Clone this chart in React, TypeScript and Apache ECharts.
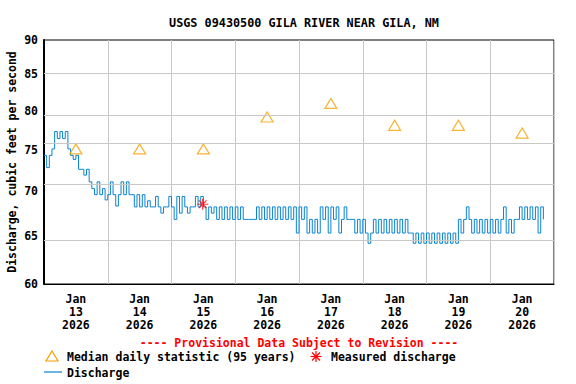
import React, { useEffect, useRef } from "react";
import * as echarts from "echarts";

// Hourly discharge (cfs), one array per day starting 00:00
const jan13 = [74.3, 72.8, 74.3, 75.1, 77.3, 76.4, 77.3, 76.4, 77.3, 75.1, 74.3, 73.8, 74.3, 72.6, 72.6, 71.9, 72.6, 71.1, 70.3, 69.6, 71.1, 69.6, 70.3, 69.0];
const jan14 = [69.6, 71.1, 69.6, 68.3, 69.6, 71.1, 69.6, 71.1, 69.6, 69.6, 68.2, 69.6, 68.2, 69.6, 68.2, 68.9, 68.2, 68.2, 69.4, 68.2, 67.5, 68.2, 68.2, 69.4];
const jan15 = [68.2, 66.8, 69.4, 67.5, 69.4, 68.2, 67.5, 68.2, 68.2, 69.4, 68.2, 69.4, 68.2, 66.8, 68.2, 67.5, 68.2, 66.8, 68.2, 66.8, 68.2, 66.8, 68.2, 66.8];
const jan16 = [68.2, 66.8, 68.2, 66.8, 66.8, 66.8, 66.8, 66.8, 68.2, 66.8, 68.2, 66.8, 68.2, 66.8, 68.2, 66.8, 68.2, 66.8, 68.2, 66.8, 68.2, 66.8, 68.2, 65.3];
const jan17 = [68.2, 66.8, 68.2, 65.3, 66.8, 65.3, 66.8, 65.3, 68.2, 66.8, 68.2, 65.3, 68.2, 66.8, 68.2, 65.3, 66.8, 68.2, 66.8, 66.8, 66.8, 65.3, 66.8, 65.3];
const jan18 = [66.8, 65.3, 64.2, 65.3, 66.8, 65.3, 66.8, 65.3, 66.8, 65.3, 66.8, 65.3, 66.8, 65.3, 66.8, 65.3, 66.8, 65.3, 65.3, 64.2, 65.3, 64.2, 65.3, 64.2];
const jan19 = [65.3, 64.2, 65.3, 64.2, 65.3, 64.2, 65.3, 64.2, 65.3, 64.2, 65.3, 64.2, 66.8, 65.3, 66.8, 68.2, 66.8, 65.3, 66.8, 65.3, 66.8, 65.3, 66.8, 65.3];
const jan20 = [66.8, 65.3, 66.8, 65.3, 66.8, 68.2, 65.3, 66.8, 65.3, 66.8, 66.8, 68.2, 66.8, 68.2, 66.8, 68.2, 66.8, 68.2, 65.3, 68.2, 66.8];
const dischargeDays = [jan13, jan14, jan15, jan16, jan17, jan18, jan19, jan20];

// Median daily statistic (95 years), one per day (plotted at noon)
const medianValues = [75.1, 75.1, 75.1, 79.2, 81.0, 78.1, 78.1, 77.1];

// Measured discharge
const measuredTime = "2026-01-15T11:45:00Z";
const measuredValue = 68.5;

// Axis labels
const dayNumbers = [13, 14, 15, 16, 17, 18, 19, 20];
const yTicks = [60, 65, 70, 75, 80, 85, 90];

const START = Date.UTC(2026, 0, 13);
const HOUR = 3600000;
const DAY = 86400000;
const FONT = "'DejaVu Sans Mono', 'Liberation Mono', monospace";
const BLUE = "#0a84d0";
const ORANGE = "#f5a000";
const lg = (v: number) => Math.log10(v);

const asterisk = "path://M0,-10L0,10M-10,0L10,0M-7,-7L7,7M-7,7L7,-7";

export default function App() {
  const ref = useRef<HTMLDivElement>(null);
  useEffect(() => {
    if (!ref.current) return;
    const chart = echarts.init(ref.current, undefined, { renderer: "svg" });

    const discharge: [number, number][] = [];
    dischargeDays.forEach((arr, d) =>
      arr.forEach((v, h) => discharge.push([START + (d * 24 + h) * HOUR, lg(v)]))
    );
    const medians = medianValues.map((v, d) => [START + d * DAY + 12 * HOUR, lg(v)]);
    const noonTicks = dayNumbers.map((_, d) => START + d * DAY + 12 * HOUR);

    chart.setOption({
      animation: false,
      backgroundColor: "#fff",
      title: {
        text: "USGS 09430500 GILA RIVER NEAR GILA, NM",
        left: 299,
        top: 12,
        textAlign: "center",
        textStyle: { fontFamily: FONT, fontWeight: "bold", fontSize: 11.8, color: "#000" },
      },
      grid: {
        left: 44,
        right: 22,
        top: 40,
        bottom: 100,
        outerBoundsMode: "none",
        containLabel: false,
        show: true,
        borderColor: "#000",
        borderWidth: 1,
        backgroundColor: "transparent",
      },
      xAxis: {
        type: "value",
        min: START,
        max: START + 8 * DAY,
        interval: DAY,
        axisLine: { show: true, lineStyle: { color: "#000", width: 1 } },
        axisTick: { show: false },
        splitLine: { show: true, lineStyle: { color: "#c8c8c8", width: 1 } },
        axisLabel: {
          customValues: noonTicks,
          formatter: (v: number) => {
            const d = Math.round((v - START - 12 * HOUR) / DAY);
            return `Jan\n${dayNumbers[d]}\n2026`;
          },
          fontFamily: FONT,
          fontWeight: "bold",
          fontSize: 11.5,
          color: "#000",
          lineHeight: 13,
          margin: 8,
        },
      },
      yAxis: {
        type: "value",
        min: lg(60),
        max: lg(90),
        axisLine: { show: true, lineStyle: { color: "#000", width: 2 } },
        axisTick: { show: false },
        splitLine: { show: false },
        axisLabel: {
          customValues: yTicks.map(lg),
          formatter: (v: number) => String(Math.round(Math.pow(10, v))),
          fontFamily: FONT,
          fontWeight: "bold",
          fontSize: 11.5,
          color: "#000",
          margin: 6,
        },
      },
      series: [
        {
          type: "line",
          data: [],
          silent: true,
          z: 1,
          markLine: {
            silent: true,
            symbol: "none",
            label: { show: false },
            lineStyle: { color: "#c8c8c8", width: 1, type: "solid" },
            data: yTicks.slice(1, -1).map((v) => ({ yAxis: lg(v) })),
          },
        },
        {
          type: "line",
          name: "Discharge",
          data: discharge,
          step: "end",
          showSymbol: false,
          symbol: "none",
          lineStyle: { color: BLUE, width: 1 },
          z: 3,
        },
        {
          type: "scatter",
          name: "Median",
          data: medians,
          symbol: "triangle",
          symbolSize: [12, 10],
          itemStyle: { color: "rgba(0,0,0,0)", borderColor: ORANGE, borderWidth: 1.2 },
          z: 4,
        },
        {
          type: "scatter",
          name: "Measured",
          data: [[Date.parse(measuredTime), lg(measuredValue)]],
          symbol: asterisk,
          symbolSize: 11,
          itemStyle: { color: "none", borderColor: "#ff0000", borderWidth: 1.2 },
          z: 5,
        },
      ],
      graphic: [
        {
          type: "text",
          x: 12,
          y: 162,
          rotation: Math.PI / 2,
          style: {
            x: 0,
            y: 0,
            text: "Discharge, cubic feet per second",
            fill: "#000",
            font: `bold 11.5px ${FONT}`,
            align: "center",
            verticalAlign: "middle",
          },
        },
        {
          type: "text",
          style: {
            x: 299,
            y: 343,
            text: "---- Provisional Data Subject to Revision ----",
            fill: "#ff0000",
            font: `bold 11.5px ${FONT}`,
            align: "center",
            verticalAlign: "middle",
          },
        },
        {
          type: "polygon",
          shape: { points: [[52, 351], [58, 361], [46, 361]] },
          style: { fill: "none", stroke: ORANGE, lineWidth: 1.2 },
        },
        {
          type: "text",
          style: {
            x: 67,
            y: 357,
            text: "Median daily statistic (95 years)",
            fill: "#000",
            font: `bold 11.5px ${FONT}`,
            verticalAlign: "middle",
          },
        },
        { type: "line", shape: { x1: 316, y1: 351, x2: 316, y2: 362 }, style: { stroke: "#ff0000", lineWidth: 1.2 } },
        { type: "line", shape: { x1: 310.5, y1: 356.5, x2: 321.5, y2: 356.5 }, style: { stroke: "#ff0000", lineWidth: 1.2 } },
        { type: "line", shape: { x1: 312, y1: 352.5, x2: 320, y2: 360.5 }, style: { stroke: "#ff0000", lineWidth: 1.2 } },
        { type: "line", shape: { x1: 312, y1: 360.5, x2: 320, y2: 352.5 }, style: { stroke: "#ff0000", lineWidth: 1.2 } },
        {
          type: "text",
          style: {
            x: 331,
            y: 357,
            text: "Measured discharge",
            fill: "#000",
            font: `bold 11.5px ${FONT}`,
            verticalAlign: "middle",
          },
        },
        { type: "line", shape: { x1: 44, y1: 372, x2: 62, y2: 372 }, style: { stroke: BLUE, lineWidth: 1.2 } },
        {
          type: "text",
          style: {
            x: 67,
            y: 373,
            text: "Discharge",
            fill: "#000",
            font: `bold 11.5px ${FONT}`,
            verticalAlign: "middle",
          },
        },
      ],
    });
    return () => chart.dispose();
  }, []);
  return <div ref={ref} style={{ width: 576, height: 384, position: "absolute", left: 0, top: 0 }} />;
}
